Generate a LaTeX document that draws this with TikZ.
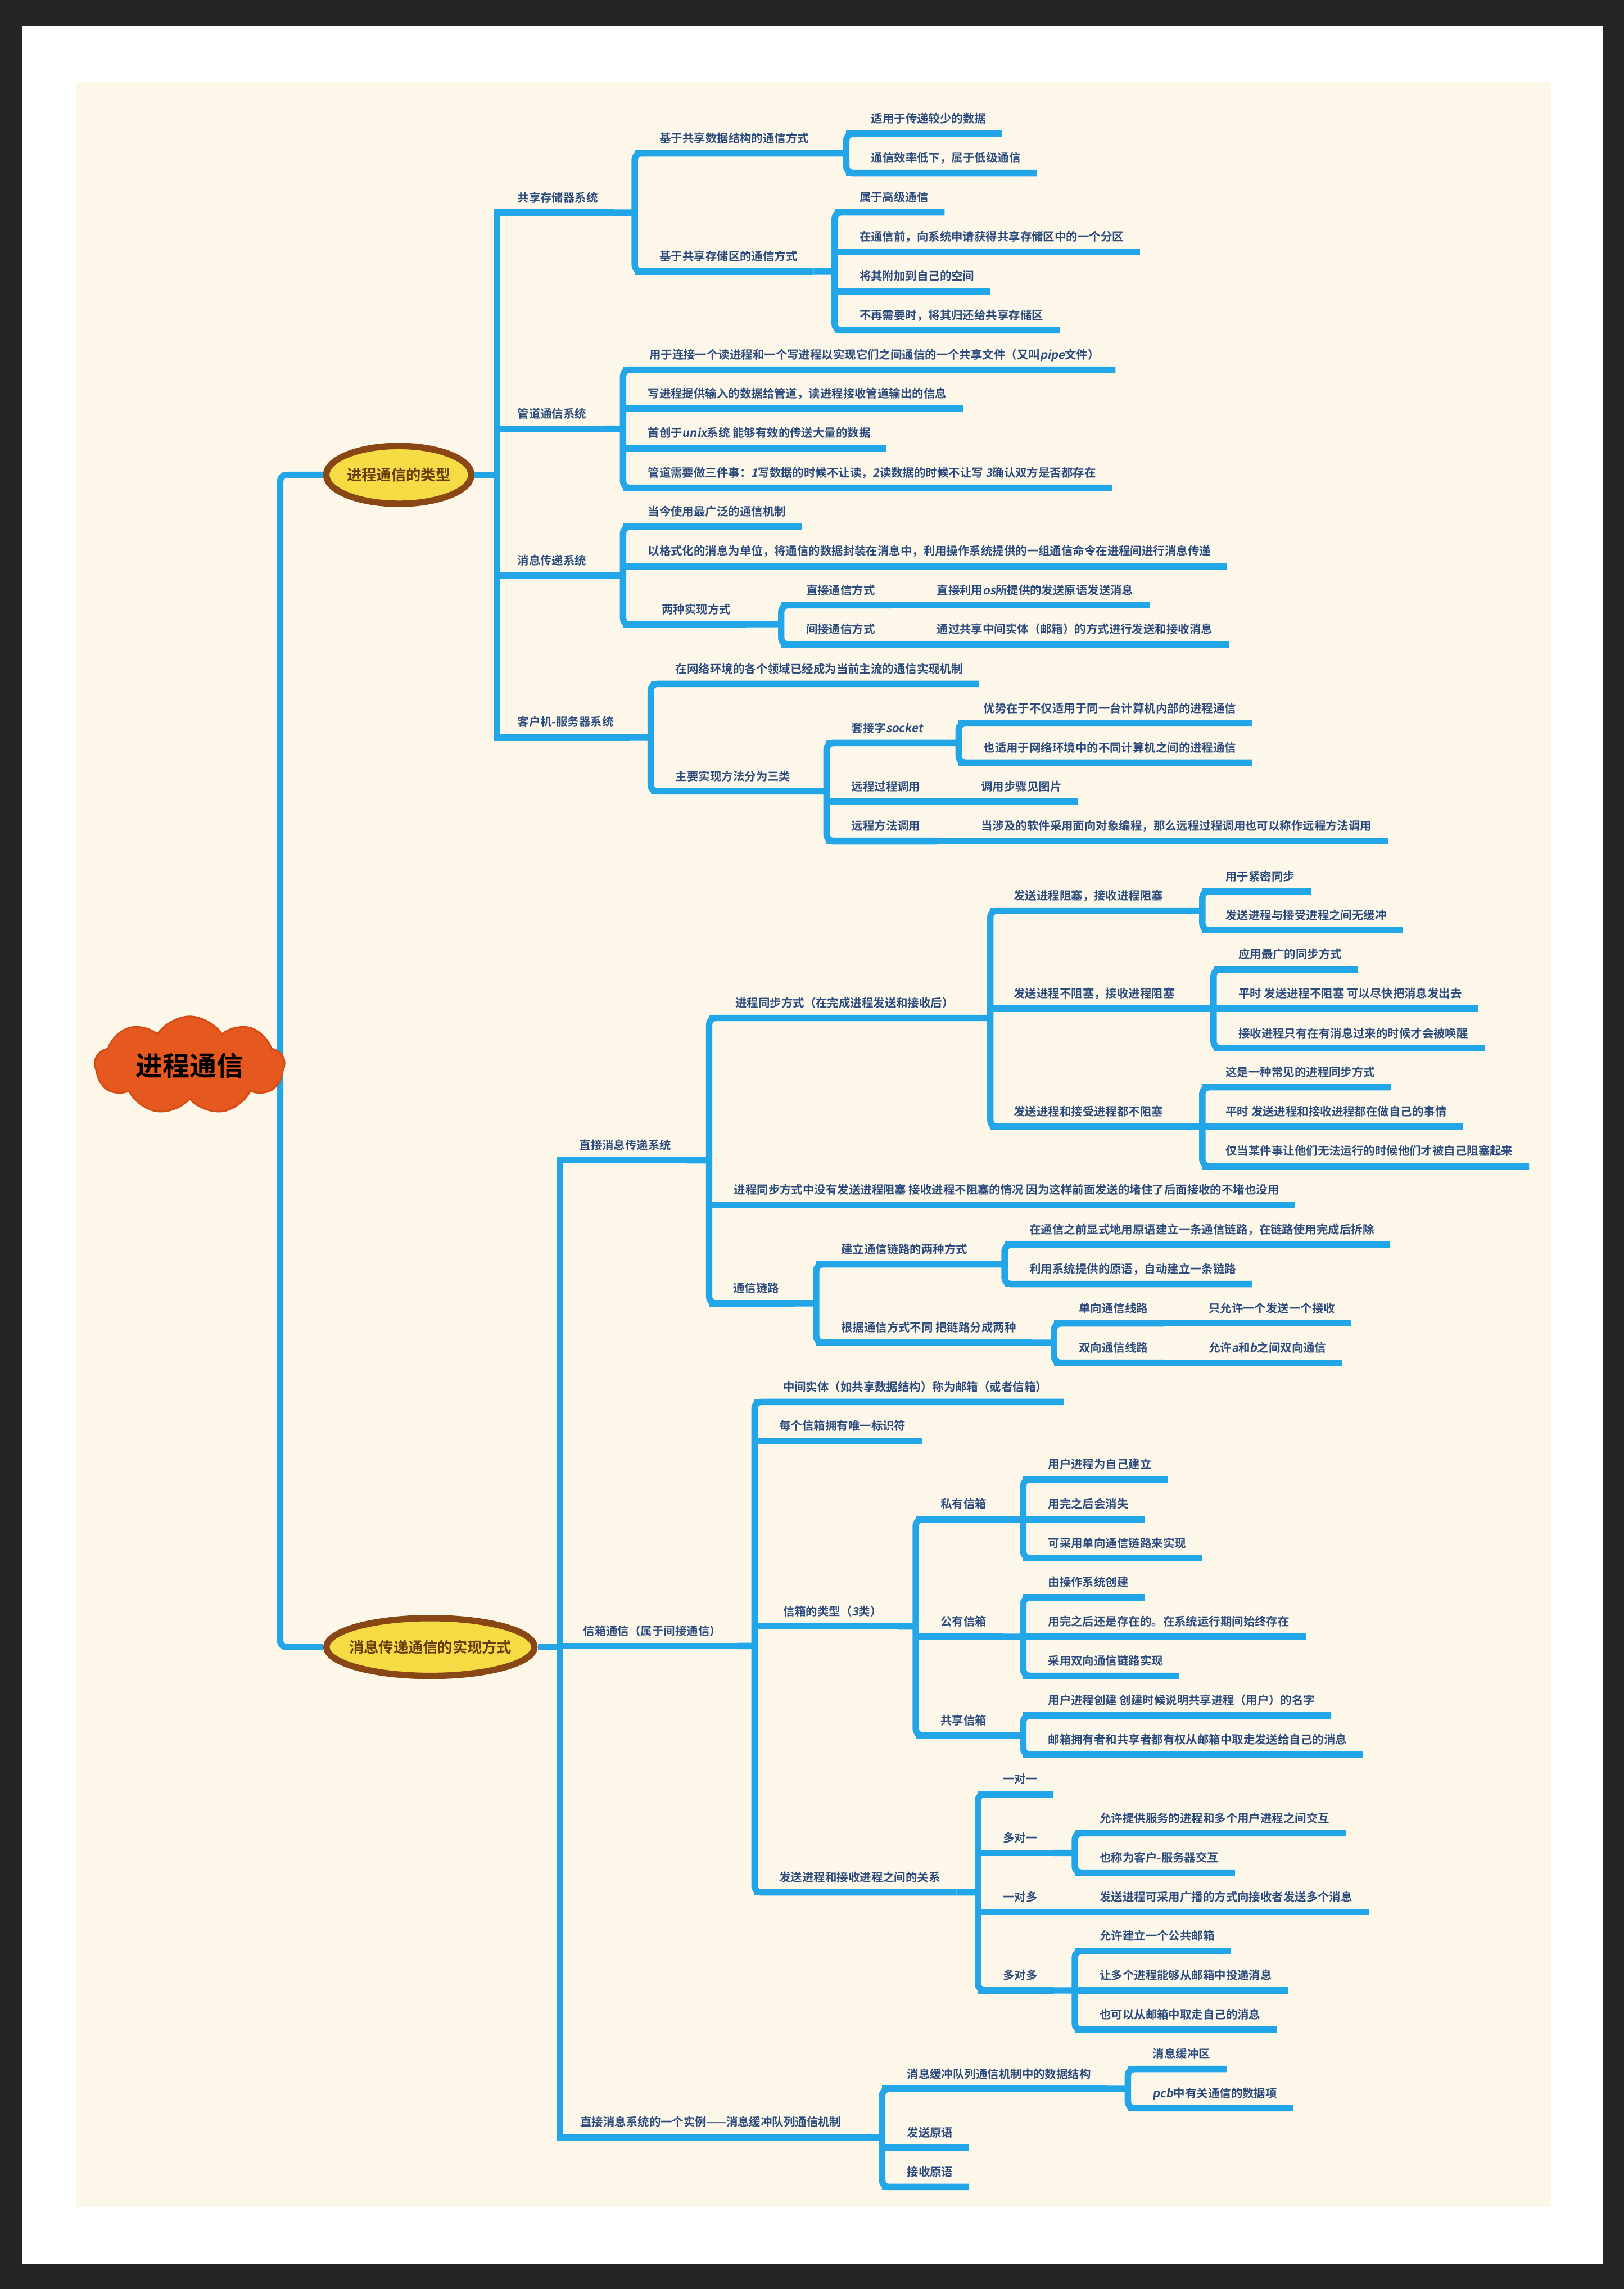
\documentclass[tikz,border=0pt]{standalone}
\usepackage{fontspec}
\usetikzlibrary{shapes.geometric,shapes.symbols,calc}
\newfontfamily\cjk{Noto Sans CJK SC Bold}
\newfontfamily\cjksl{Noto Sans CJK SC Bold}[FakeSlant=0.18]
\newcommand\latn[1]{{\cjksl #1}}
\definecolor{lblue}{HTML}{23A6E8}
\definecolor{tink}{HTML}{2D4C7E}
\definecolor{cream}{HTML}{FDF7EA}
\definecolor{frame}{HTML}{252525}
\definecolor{corange}{HTML}{E5581F}
\definecolor{cedge}{HTML}{D44D17}
\definecolor{eyellow}{HTML}{F5DC45}
\definecolor{ebrown}{HTML}{8A4716}
\definecolor{etext}{HTML}{6A3B10}
\def\tpadl{17}

\begin{document}
\begin{tikzpicture}[x=1mm, y=-1mm,
  branch/.style={draw=lblue, line width=4.4mm},
  padl/.code={\def\tpadl{#1}},
  topic/.style={anchor=south west, inner sep=0pt, text=tink, text depth=7.3mm,
                font=\cjk\fontsize{22.4pt}{26pt}\selectfont,
                execute at begin node={\hspace*{\tpadl mm}}, execute at end node={\hspace*{11mm}}},
  lvone/.style={topic, padl=14},
  mainel/.style={ellipse, fill=eyellow, draw=ebrown, line width=4.4mm, minimum height=39.6mm,
                 inner sep=0pt, text=etext, font=\cjk\fontsize{28.8pt}{32pt}\selectfont,
                 execute at begin node={\hbox to 0pt\bgroup\hss}, execute at end node={\hss\egroup}},
  rootcloud/.style={cloud, cloud puffs=9, cloud puff arc=115, cloud ignores aspect, fill=corange, draw=cedge,
                    line width=1.2mm, minimum width=130mm, minimum height=67mm, inner sep=0pt,
                    text=black, font=\cjk\fontsize{52.6pt}{58pt}\selectfont,
                    execute at begin node={\hbox to 0pt\bgroup\hss}, execute at end node={\hss\egroup}}]
% ---------------- page
\fill[frame] (0,0) rectangle (1113,1568.4);
\fill[white] (15.4,17.7) rectangle (1098.7,1551.4);
\fill[cream] (52,56.2) rectangle (1063.3,1512.5);
% ---------------- main topics
\node[mainel, minimum width=99.4mm] (t1) at (273.3,325.4) {进程通信的类型};
\node[mainel, minimum width=142.6mm] (t2) at (295,1128.5) {消息传递通信的实现方式};
\coordinate (rs) at (192,730);
\draw[branch, rounded corners=4.4mm] (t1.west) -- (t1.west -| rs) -- (t2.west -| rs) -- (t2.west);
\node[rootcloud] (root) at (130,730) {进程通信};
% ---------------- 进程通信的类型
\node[lvone] (a1) at (340.6,145.7) {共享存储器系统};
\node[lvone] (a2) at (340.6,293.8) {管道通信系统};
\node[lvone] (a3) at (340.6,394.4) {消息传递系统};
\node[lvone] (a4) at (340.6,505) {客户机-服务器系统};
\node[topic] (b1) at (435,105) {基于共享数据结构的通信方式};
\node[topic] (b2) at (435,186) {基于共享存储区的通信方式};
\node[topic] (c1) at (580,91.7) {适用于传递较少的数据};
\node[topic] (c2) at (580,118.5) {通信效率低下，属于低级通信};
\node[topic] (c3) at (572,145.5) {属于高级通信};
\node[topic] (c4) at (572,172.6) {在通信前，向系统申请获得共享存储区中的一个分区};
\node[topic] (c5) at (572,199.5) {将其附加到自己的空间};
\node[topic] (c6) at (572,226.3) {不再需要时，将其归还给共享存储区};
\node[topic, padl=18] (d1) at (427,253.3) {用于连接一个读进程和一个写进程以实现它们之间通信的一个共享文件（又叫\latn{pipe}文件）};
\node[topic] (d2) at (427,280) {写进程提供输入的数据给管道，读进程接收管道输出的信息};
\node[topic] (d3) at (427,307) {首创于\latn{unix}系统 能够有效的传送大量的数据};
\node[topic] (d4) at (427,334.2) {管道需要做三件事：\latn{1}写数据的时候不让读，\latn{2}读数据的时候不让写 \latn{3}确认双方是否都存在};
\node[topic] (e1) at (427,361) {当今使用最广泛的通信机制};
\node[topic] (e2) at (427,388) {以格式化的消息为单位，将通信的数据封装在消息中，利用操作系统提供的一组通信命令在进程间进行消息传递};
\node[topic, padl=26.5] (e3) at (427,428) {两种实现方式};
\node[topic] (f1) at (535.4,414.7) {直接通信方式};
\node[topic] (f2) at (535.4,441.5) {间接通信方式};
\node[topic] (f1a) at (625,414.7) {直接利用\latn{os}所提供的发送原语发送消息};
\node[topic] (f2a) at (625,441.5) {通过共享中间实体（邮箱）的方式进行发送和接收消息};
\node[topic] (g1) at (446,468.6) {在网络环境的各个领域已经成为当前主流的通信实现机制};
\node[topic] (g2) at (446,542.2) {主要实现方法分为三类};
\node[topic] (h1) at (566.5,509.1) {套接字\latn{socket}};
\node[topic] (h2) at (566.5,549.4) {远程过程调用};
\node[topic] (h3) at (566.5,576.2) {远程方法调用};
\node[topic] (h1a) at (657,495.6) {优势在于不仅适用于同一台计算机内部的进程通信};
\node[topic] (h1b) at (657,522.5) {也适用于网络环境中的不同计算机之间的进程通信};
\node[topic] (h2a) at (655.4,549.4) {调用步骤见图片};
\node[topic] (h3a) at (655.4,576.2) {当涉及的软件采用面向对象编程，那么远程过程调用也可以称作远程方法调用};
% ---------------- 消息传递通信的实现方式
\node[lvone, padl=13.3] (A1) at (383.7,795) {直接消息传递系统};
\node[lvone, padl=16] (A2) at (383.7,1127.8) {信箱通信（属于间接通信）};
\node[lvone] (A3) at (383.7,1464.4) {直接消息系统的一个实例——消息缓冲队列通信机制};
\node[topic, padl=18] (B1) at (486,697.5) {进程同步方式（在完成进程发送和接收后）};
\node[topic] (B2) at (486,825.5) {进程同步方式中没有发送进程阻塞 接收进程不阻塞的情况 因为这样前面发送的堵住了后面接收的不堵也没用};
\node[topic, padl=16.4] (B3) at (486,893) {通信链路};
\node[topic, padl=16] (C1) at (678.7,624) {发送进程阻塞，接收进程阻塞};
\node[topic, padl=16] (C2) at (678.7,691) {发送进程不阻塞，接收进程阻塞};
\node[topic, padl=16] (C3) at (678.7,772) {发送进程和接受进程都不阻塞};
\node[topic, padl=16] (C1a) at (824,610.7) {用于紧密同步};
\node[topic, padl=16] (C1b) at (824,637.3) {发送进程与接受进程之间无缓冲};
\node[topic] (C2a) at (831.7,664.2) {应用最广的同步方式};
\node[topic] (C2b) at (831.7,691) {平时 发送进程不阻塞 可以尽快把消息发出去};
\node[topic] (C2c) at (831.7,718.2) {接收进程只有在有消息过来的时候才会被唤醒};
\node[topic, padl=16] (C3a) at (824,745) {这是一种常见的进程同步方式};
\node[topic, padl=16] (C3b) at (824,772) {平时 发送进程和接收进程都在做自己的事情};
\node[topic, padl=16] (C3c) at (824,799) {仅当某件事让他们无法运行的时候他们才被自己阻塞起来};
\node[topic] (D1) at (559.4,866.3) {建立通信链路的两种方式};
\node[topic] (D2) at (559.4,920) {根据通信方式不同 把链路分成两种};
\node[topic] (D1a) at (688.5,852.8) {在通信之前显式地用原语建立一条通信链路，在链路使用完成后拆除};
\node[topic] (D1b) at (688.5,879.8) {利用系统提供的原语，自动建立一条链路};
\node[topic] (D2a) at (722.4,906.8) {单向通信线路};
\node[topic] (D2b) at (722.4,933.7) {双向通信线路};
\node[topic] (D2c) at (811.3,906.8) {只允许一个发送一个接收};
\node[topic] (D2d) at (811.3,933.7) {允许\latn{a}和\latn{b}之间双向通信};
\node[topic, padl=19.5] (E1) at (517.1,960.6) {中间实体（如共享数据结构）称为邮箱（或者信箱）};
\node[topic] (E2) at (517.1,987.4) {每个信箱拥有唯一标识符};
\node[topic, padl=19.5] (E3) at (517.1,1114.4) {信箱的类型（\latn{3}类）};
\node[topic] (E4) at (517.1,1296.6) {发送进程和接收进程之间的关系};
\node[topic] (F1) at (627.6,1041) {私有信箱};
\node[topic] (F2) at (627.6,1121.5) {公有信箱};
\node[topic] (F3) at (627.6,1189) {共享信箱};
\node[topic] (F1a) at (701.3,1013.6) {用户进程为自己建立};
\node[topic] (F1b) at (701.3,1041) {用完之后会消失};
\node[topic] (F1c) at (701.3,1067.6) {可采用单向通信链路来实现};
\node[topic] (F2a) at (701.3,1094.5) {由操作系统创建};
\node[topic] (F2b) at (701.3,1121.5) {用完之后还是存在的。在系统运行期间始终存在};
\node[topic] (F2c) at (701.3,1148.3) {采用双向通信链路实现};
\node[topic] (F3a) at (701.3,1175.4) {用户进程创建 创建时候说明共享进程（用户）的名字};
\node[topic] (F3b) at (701.3,1202.4) {邮箱拥有者和共享者都有权从邮箱中取走发送给自己的消息};
\node[topic] (G1) at (670.3,1229.3) {一对一};
\node[topic] (G2) at (670.3,1269.6) {多对一};
\node[topic] (G3) at (670.3,1310.1) {一对多};
\node[topic] (G4) at (670.3,1363.8) {多对多};
\node[topic] (G2a) at (736.6,1256.1) {允许提供服务的进程和多个用户进程之间交互};
\node[topic] (G2b) at (736.6,1283.1) {也称为客户-服务器交互};
\node[topic] (G3a) at (736.6,1310.1) {发送进程可采用广播的方式向接收者发送多个消息};
\node[topic] (G4a) at (736.6,1336.8) {允许建立一个公共邮箱};
\node[topic] (G4b) at (736.6,1363.8) {让多个进程能够从邮箱中投递消息};
\node[topic] (G4c) at (736.6,1390.8) {也可以从邮箱中取走自己的消息};
\node[topic] (H1) at (604.6,1431.3) {消息缓冲队列通信机制中的数据结构};
\node[topic] (H2) at (604.6,1471.5) {发送原语};
\node[topic] (H3) at (604.6,1498.4) {接收原语};
\node[topic] (H1a) at (773,1417.6) {消息缓冲区};
\node[topic] (H1b) at (773,1444.5) {\latn{pcb}中有关通信的数据项};
% ---------------- underlines
\foreach \n in {a1,a2,a3,a4,b1,b2,c1,c2,c3,c4,c5,c6,d1,d2,d3,d4,e1,e2,e3,f1,f2,f1a,f2a,
                g1,g2,h1,h2,h3,h1a,h1b,h2a,h3a,A1,A2,A3,B1,B2,B3,C1,C2,C3,C1a,C1b,C2a,C2b,C2c,
                C3a,C3b,C3c,D1,D2,D1a,D1b,D2a,D2b,D2c,D2d,E1,E2,E3,E4,F1,F2,F3,F1a,F1b,F1c,
                F2a,F2b,F2c,F3a,F3b,G1,G2,G3,G4,G2a,G2b,G3a,G4a,G4b,G4c,H1,H2,H3,H1a,H1b}
  \draw[branch] (\n.south west) -- (\n.south east);
% ---------------- spines: parent/first/last child
\foreach \p/\f/\l in {a1/b1/b2, b1/c1/c2, b2/c3/c6, a2/d1/d4, a3/e1/e3, e3/f1/f2, a4/g1/g2,
                      g2/h1/h3, h1/h1a/h1b, A1/B1/B3, B1/C1/C3, C1/C1a/C1b, C2/C2a/C2c, C3/C3a/C3c,
                      B3/D1/D2, D1/D1a/D1b, D2/D2a/D2b, A2/E1/E4, E3/F1/F3, F1/F1a/F1c, F2/F2a/F2c,
                      F3/F3a/F3b, E4/G1/G4, G2/G2a/G2b, G4/G4a/G4c, A3/H1/H3, H1/H1a/H1b}
  \draw[branch, rounded corners=4.4mm] (\f.south east) -- (\f.south west) -- (\l.south west) -- (\l.south east)
        (\p.south east) -- (\p.south east -| \f.south west);
% single child
\foreach \p/\c in {f1/f1a, f2/f2a, h2/h2a, h3/h3a, D2a/D2c, D2b/D2d, G3/G3a}
  \draw[branch] (\p.south east) -- (\c.south west);
% ---------------- first level
\draw[branch] (a1.south east) -- (a1.south west) -- (a4.south west) -- (a4.south east)
      (t1.east) -- (t1.east -| a1.south west);
\draw[branch] (A1.south east) -- (A1.south west) -- (A3.south west) -- (A3.south east)
      (t2.east) -- (t2.east -| A1.south west);
\end{tikzpicture}
\end{document}
